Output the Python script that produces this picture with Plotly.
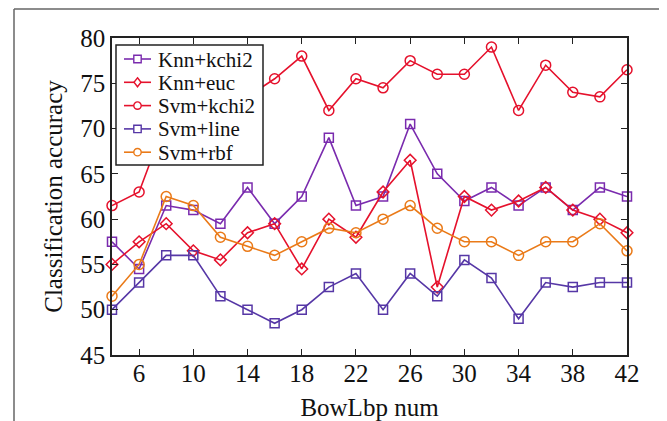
import plotly.graph_objects as go

x_vals = [4, 6, 8, 10, 12, 14, 16, 18, 20, 22, 24, 26, 28, 30, 32, 34, 36, 38, 40, 42]
knn_kchi2 = [57.5, 54.5, 61.5, 61, 59.5, 63.5, 59.5, 62.5, 69, 61.5, 62.5, 70.5, 65, 62, 63.5, 61.5, 63.5, 61, 63.5, 62.5]
knn_euc = [55, 57.5, 59.5, 56.5, 55.5, 58.5, 59.5, 54.5, 60, 58, 63, 66.5, 52.5, 62.5, 61, 62, 63.5, 61, 60, 58.5]
svm_kchi2 = [61.5, 63, 71, 73, 74, 73.5, 75.5, 78, 72, 75.5, 74.5, 77.5, 76, 76, 79, 72, 77, 74, 73.5, 76.5]
svm_line = [50, 53, 56, 56, 51.5, 50, 48.5, 50, 52.5, 54, 50, 54, 51.5, 55.5, 53.5, 49, 53, 52.5, 53, 53]
svm_rbf = [51.5, 55, 62.5, 61.5, 58, 57, 56, 57.5, 59, 58.5, 60, 61.5, 59, 57.5, 57.5, 56, 57.5, 57.5, 59.5, 56.5]

series_names = ["Knn+kchi2", "Knn+euc", "Svm+kchi2", "Svm+line", "Svm+rbf"]
x_ticks = [6, 10, 14, 18, 22, 26, 30, 34, 38, 42]
y_ticks = [45, 50, 55, 60, 65, 70, 75, 80]

series_data = [knn_kchi2, knn_euc, svm_kchi2, svm_line, svm_rbf]
colors = ["#7A2BAE", "#E5112C", "#E5112C", "#5637A6", "#EA7A18"]
symbols = ["square", "diamond", "circle", "square", "circle"]
sizes = {"square": 9, "diamond": 9, "circle": 10}

FONT = "Liberation Serif"

# figure is offset by the 8px page margin, so the figure is 8px smaller
W, H = 659, 413
ML, MT, MR, MB = 104, 30, 40, 66
PW = W - ML - MR
PH = H - MT - MB


def px(wx):
    # window pixel x -> paper
    return (wx - 8 - ML) / PW


def py(wy):
    # window pixel y -> paper
    return (H - MB - (wy - 8)) / PH


fig = go.Figure()
for name, ys, color, sym in zip(series_names, series_data, colors, symbols):
    fig.add_trace(go.Scatter(
        x=x_vals, y=ys, name=name, mode="lines+markers",
        line=dict(color=color, width=1.6),
        marker=dict(symbol=sym + "-open", size=sizes[sym], color=color,
                    line=dict(width=1.5, color=color)),
        cliponaxis=False, showlegend=False,
    ))

axis_common = dict(
    showline=True, linecolor="#222", linewidth=1.5, mirror="ticks",
    ticks="inside", ticklen=6, tickcolor="#222", tickwidth=1.2,
    showgrid=False, zeroline=False, automargin=False,
    tickfont=dict(family=FONT, size=25, color="#111"),
)

fig.update_layout(
    width=W, height=H,
    margin=dict(l=ML, r=MR, t=MT, b=MB, autoexpand=False),
    paper_bgcolor="white", plot_bgcolor="white",
    xaxis=dict(range=[4, 42], tickvals=x_ticks, ticklabelstandoff=-5,
               title=dict(text="BowLbp num", font=dict(family=FONT, size=25, color="#111"), standoff=13),
               **axis_common),
    yaxis=dict(range=[45, 80], tickvals=y_ticks,
               title=dict(text="Classification accuracy", font=dict(family=FONT, size=25, color="#111"), standoff=11),
               **axis_common),
    showlegend=False,
)

# outer frame (left and top edges)
fig.add_shape(type="line", xref="paper", yref="paper", x0=px(14), x1=px(14), y0=py(440), y1=py(9),
              line=dict(color="#666", width=1.5))
fig.add_shape(type="line", xref="paper", yref="paper", x0=px(14), x1=px(700), y0=py(9), y1=py(9),
              line=dict(color="#666", width=1.5))

# custom compact legend
LEG_FONT = 21
row_y = [59, 82.3, 105.6, 128.9, 152.2]
fig.add_shape(type="rect", xref="paper", yref="paper", x0=px(116), x1=px(263), y0=py(165), y1=py(45),
              fillcolor="white", line=dict(color="#222", width=1.5), layer="above")
for name, color, sym, ry in zip(series_names, colors, symbols, row_y):
    fig.add_shape(type="line", xref="paper", yref="paper", x0=px(124), x1=px(151), y0=py(ry), y1=py(ry),
                  line=dict(color=color, width=1.6), layer="above")
    cx, r = 137.5, 3.7
    if sym == "square":
        fig.add_shape(type="rect", xref="paper", yref="paper", x0=px(cx - r), x1=px(cx + r),
                      y0=py(ry + r), y1=py(ry - r), fillcolor="white",
                      line=dict(color=color, width=1.4), layer="above")
    elif sym == "circle":
        fig.add_shape(type="circle", xref="paper", yref="paper", x0=px(cx - r), x1=px(cx + r),
                      y0=py(ry + r), y1=py(ry - r), fillcolor="white",
                      line=dict(color=color, width=1.4), layer="above")
    else:
        path = "M {} {} L {} {} L {} {} L {} {} Z".format(
            px(cx), py(ry - 4.5), px(cx + 3.5), py(ry), px(cx), py(ry + 4.5), px(cx - 3.5), py(ry))
        fig.add_shape(type="path", xref="paper", yref="paper", path=path, fillcolor="white",
                      line=dict(color=color, width=1.4), layer="above")
    fig.add_annotation(text=name, xref="paper", yref="paper", x=px(156), y=py(ry + 0.5),
                       xanchor="left", yanchor="middle", showarrow=False,
                       font=dict(family=FONT, size=LEG_FONT, color="#111"))

fig.write_html("out.html")
